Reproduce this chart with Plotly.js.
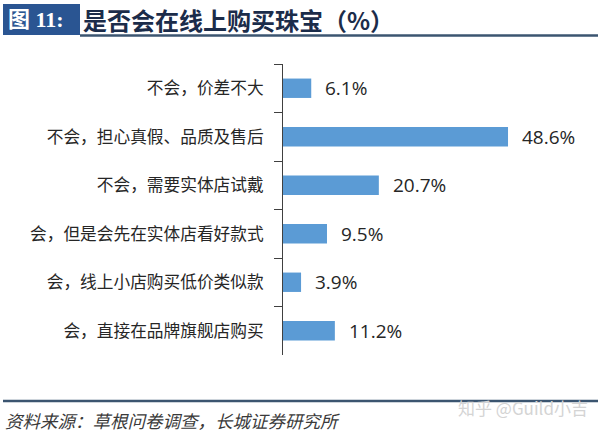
<!DOCTYPE html>
<html><head><meta charset="utf-8">
<script src="https://cdn.plot.ly/plotly-3.0.1.min.js"></script>
<style>html,body{margin:0;padding:0;background:#fff}#chart{width:602px;height:433px}</style>
</head><body><div id="chart"></div>
<script>
const categories = ["不会，价差不大","不会，担心真假、品质及售后","不会，需要实体店试戴","会，但是会先在实体店看好款式","会，线上小店购买低价类似款","会，直接在品牌旗舰店购买"];
const values = [6.1, 48.6, 20.7, 9.5, 3.9, 11.2];
const valueLabels = values.map(v => v.toFixed(1) + "%");

const cjk = '"Noto Sans CJK SC", "Noto Sans", sans-serif';
const annotations = values.map((v, i) => ({
  x: v, y: categories[i], xref: 'x', yref: 'y', text: valueLabels[i],
  showarrow: false, xanchor: 'left', yanchor: 'middle', xshift: 12,
  font: {family: '"Open Sans", "Noto Sans", sans-serif', size: 19, color: '#262626'}
}));
annotations.push(
  {xref:'paper', yref:'paper', x: 0, y: 0, xanchor:'left', yanchor:'middle', showarrow:false,
   text:'图 11:', font:{family:'"Liberation Serif", "Noto Sans CJK SC", serif', size:22, color:'#ffffff', weight:'bold'}},
  {xref:'paper', yref:'paper', x: 0, y: 0, xanchor:'left', yanchor:'middle', showarrow:false,
   text:'是否会在线上购买珠宝（%）', font:{family:cjk, size:24, color:'#1b2c4a', weight:'bold'}},
  {xref:'paper', yref:'paper', x: 0, y: 0, xanchor:'left', yanchor:'middle', showarrow:false,
   text:'<i>资料来源：草根问卷调查，长城证券研究所</i>', font:{family:cjk, size:17.5, color:'#3a3a3a'}},
  {xref:'paper', yref:'paper', x: 0, y: 0, xanchor:'right', yanchor:'middle', showarrow:false,
   text:'知乎 @Guild小吉', font:{family:cjk, size:17, color:'#d4d4d4'}}
);

// paper coordinate helpers (plot area: l=283, r=12, t=64, b=78)
const L = 283, R = 12, T = 64, B = 78, W = 602, H = 433;
const pw = W - L - R, ph = H - T - B;
const px = x => (x - L) / pw;
const py = y => (H - B - y) / ph;

const n = annotations.length;
annotations[n-4].x = px(6); annotations[n-4].y = py(19);
annotations[n-3].x = px(81); annotations[n-3].y = py(19);
annotations[n-2].x = px(3); annotations[n-2].y = py(420);
annotations[n-1].x = px(590); annotations[n-1].y = py(407);

const shapes = [
  {type:'rect', xref:'paper', yref:'paper', x0:px(3), x1:px(80), y0:py(4), y1:py(35), fillcolor:'#2a5592', line:{width:0}, layer:'below'},
  {type:'line', xref:'paper', yref:'paper', x0:px(80), x1:px(598), y0:py(35.5), y1:py(35.5), line:{color:'#3b5570', width:2.5}},
  {type:'line', xref:'paper', yref:'paper', x0:px(3), x1:px(598), y0:py(401), y1:py(401), line:{color:'#3b5570', width:2.5}}
];

Plotly.newPlot('chart', [{
  type:'bar', orientation:'h', x: values, y: categories,
  marker:{color:'#5b9bd5'}, hoverinfo:'none'
}], {
  width: W, height: H,
  margin:{l:L, r:R, t:T, b:B, pad:0},
  paper_bgcolor:'#ffffff', plot_bgcolor:'#ffffff',
  showlegend:false, bargap:0.6,
  xaxis:{range:[0, pw/4.63], visible:false, fixedrange:true},
  yaxis:{type:'category', autorange:'reversed', showline:true, linecolor:'#404040', linewidth:1,
    ticks:'outside', ticklen:8, tickcolor:'#404040', tickson:'boundaries', showgrid:false, zeroline:false,
    tickfont:{family:cjk, size:16.7, color:'#262626'}, ticklabelstandoff:15, fixedrange:true},
  annotations: annotations, shapes: shapes
}, {staticPlot:true});
</script></body></html>
